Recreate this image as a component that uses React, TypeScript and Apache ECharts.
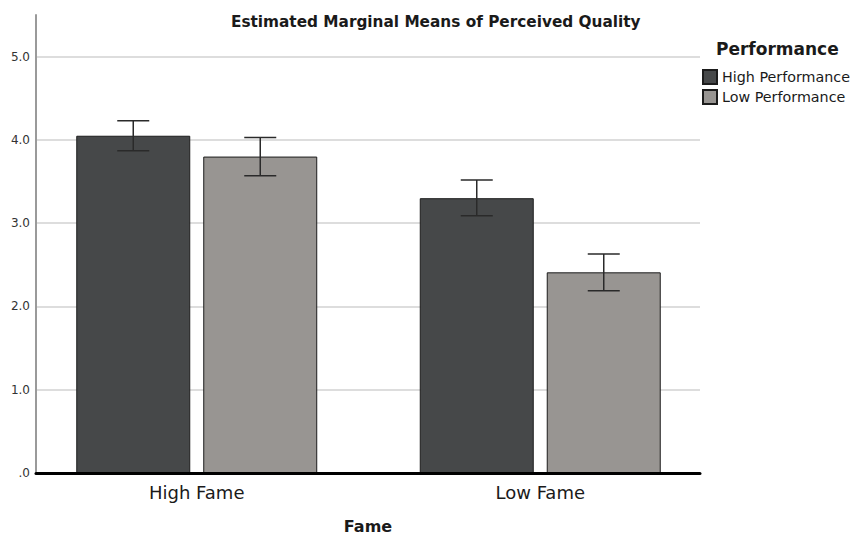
import React, { useEffect, useRef } from "react";
import * as echarts from "echarts";

const categories = ["High Fame", "Low Fame"];
const seriesNames = ["High Performance", "Low Performance"];
const highPerfMeans = [4.05, 3.3];
const lowPerfMeans = [3.8, 2.41];
const highPerfLower = [3.87, 3.09];
const highPerfUpper = [4.23, 3.52];
const lowPerfLower = [3.57, 2.19];
const lowPerfUpper = [4.03, 2.63];

const DARK = "#464849";
const LIGHT = "#989592";
const FONT = "DejaVu Sans";

const BAR_W = 114;
const BAR_GAP = 13;

function errorSeries(lo: number[], hi: number[], offset: number) {
  return {
    type: "custom",
    xAxisIndex: 0,
    yAxisIndex: 0,
    z: 4,
    silent: true,
    data: categories.map((_, i) => [i, lo[i], hi[i]]),
    encode: { x: 0, y: [1, 2] },
    renderItem: (params: any, api: any) => {
      const i = api.value(0);
      const pLo = api.coord([i, api.value(1)]);
      const pHi = api.coord([i, api.value(2)]);
      const x = pLo[0] + offset;
      const half = 16;
      const style = { stroke: "#2a2a2a", lineWidth: 1.5 };
      return {
        type: "group",
        children: [
          { type: "line", shape: { x1: x, y1: pLo[1], x2: x, y2: pHi[1] }, style },
          { type: "line", shape: { x1: x - half, y1: pHi[1], x2: x + half, y2: pHi[1] }, style },
          { type: "line", shape: { x1: x - half, y1: pLo[1], x2: x + half, y2: pLo[1] }, style },
        ],
      };
    },
  };
}

export default function App() {
  const ref = useRef<HTMLDivElement>(null);
  useEffect(() => {
    if (!ref.current) return;
    const chart = echarts.init(ref.current, undefined, { renderer: "svg" });
    const off = BAR_W / 2 + BAR_GAP / 2;
    chart.setOption({
      animation: false,
      textStyle: { fontFamily: FONT },
      title: {
        text: "Estimated Marginal Means of Perceived Quality",
        left: 226,
        top: 9,
        textStyle: { fontFamily: FONT, fontSize: 15.3, fontWeight: "bold", color: "#1a1a1a" },
      },
      legend: {
        data: seriesNames,
        orient: "vertical",
        left: 702,
        top: 69,
        padding: 0,
        itemWidth: 14,
        itemHeight: 14,
        itemGap: 4,
        icon: "rect",
        textStyle: { fontFamily: FONT, fontSize: 14.3, color: "#1a1a1a" },
      },
      graphic: [
        {
          type: "text",
          left: 716,
          top: 40,
          style: {
            text: "Performance",
            font: `bold 17px ${FONT}`,
            fill: "#1a1a1a",
          },
        },
      ],
      grid: [
        { left: 25, right: 142, top: 15, bottom: 62, outerBoundsMode: "none", containLabel: false },
        { left: 36, right: 154, top: 15, bottom: 62, outerBoundsMode: "none", containLabel: false },
      ],
      xAxis: [
        {
          type: "category",
          gridIndex: 0,
          data: categories,
          axisLine: { show: false },
          axisTick: { show: false },
          axisLabel: { fontSize: 18, color: "#1a1a1a", margin: 10, fontFamily: FONT },
        },
        {
          type: "category",
          gridIndex: 1,
          data: categories,
          z: 5,
          axisLine: { show: true, lineStyle: { color: "#000", width: 3 } },
          axisTick: { show: false },
          axisLabel: { show: false },
          name: "Fame",
          nameLocation: "middle",
          nameGap: 45,
          nameTextStyle: { fontSize: 16, fontWeight: "bold", color: "#1a1a1a", fontFamily: FONT },
        },
      ],
      yAxis: [
        { type: "value", gridIndex: 0, min: 0, max: 5.5, show: false },
        {
          type: "value",
          gridIndex: 1,
          min: 0,
          max: 5.5,
          interval: 1,
          axisLine: { show: true, lineStyle: { color: "#9a9a9a", width: 2 } },
          axisTick: { show: false },
          axisLabel: {
            showMaxLabel: false,
            fontSize: 12,
            color: "#333",
            margin: 6,
            fontFamily: FONT,
            formatter: (v: number) => (v === 0 ? ".0" : v.toFixed(1)),
          },
          splitLine: {
            show: true,
            showMaxLine: false,
            lineStyle: { color: "#d2d2d2", width: 1.5 },
          },
        },
      ],
      series: [
        {
          name: seriesNames[0],
          type: "bar",
          xAxisIndex: 0,
          yAxisIndex: 0,
          barWidth: BAR_W,
          barGap: `${((BAR_GAP / BAR_W) * 100).toFixed(2)}%`,
          data: highPerfMeans,
          itemStyle: { color: DARK, borderColor: "#1c1c1c", borderWidth: 1 },
        },
        {
          name: seriesNames[1],
          type: "bar",
          xAxisIndex: 0,
          yAxisIndex: 0,
          barWidth: BAR_W,
          barGap: `${((BAR_GAP / BAR_W) * 100).toFixed(2)}%`,
          data: lowPerfMeans,
          itemStyle: { color: LIGHT, borderColor: "#1c1c1c", borderWidth: 1 },
        },
        errorSeries(highPerfLower, highPerfUpper, -off),
        errorSeries(lowPerfLower, lowPerfUpper, off),
      ],
    });
    return () => chart.dispose();
  }, []);
  return (
    <div
      ref={ref}
      style={{ position: "fixed", left: 0, top: 0, width: 854, height: 535, background: "#fff" }}
    />
  );
}
